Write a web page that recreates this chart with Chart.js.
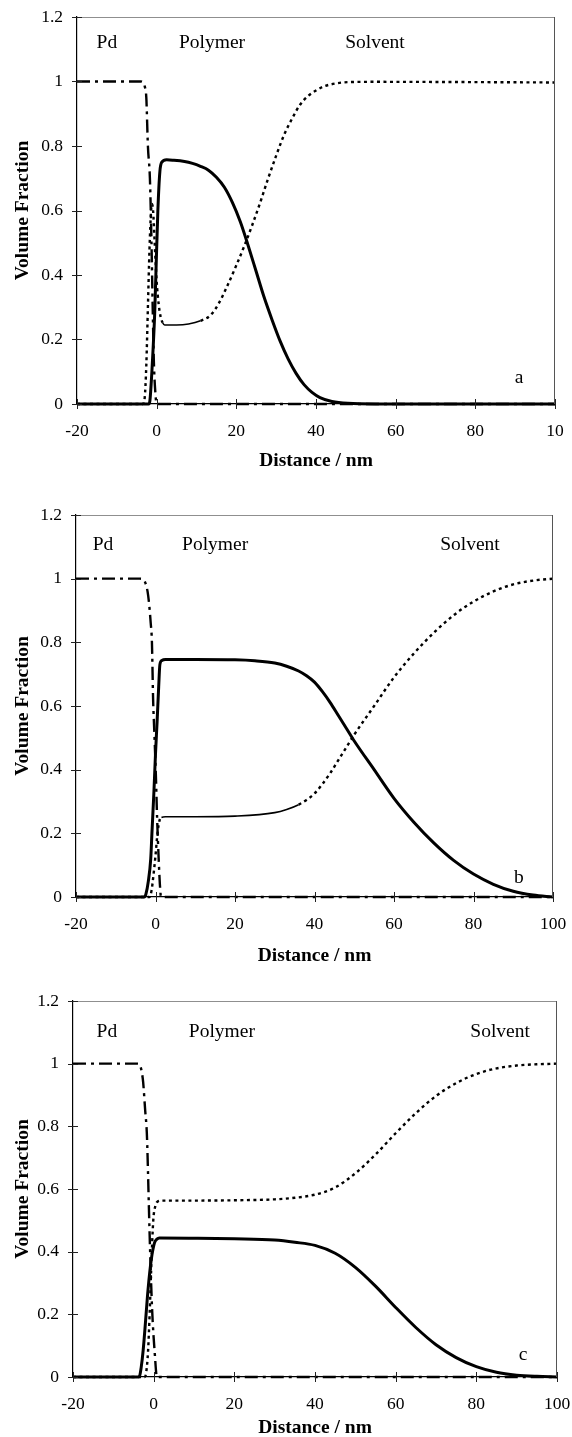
<!DOCTYPE html>
<html>
<head>
<meta charset="utf-8">
<script src="https://cdn.jsdelivr.net/npm/chart.js@4.4.0/dist/chart.umd.min.js"></script>
<style>
html,body{margin:0;padding:0;background:#fff;}
body{width:572px;height:1437px;position:relative;overflow:hidden;}
canvas{position:absolute;left:0;display:block;}
</style>
</head>
<body>
<canvas id="ca" width="572" height="485" style="top:0px"></canvas>
<canvas id="cb" width="572" height="485" style="top:485px"></canvas>
<canvas id="cc" width="572" height="467" style="top:970px"></canvas>
<script>
// ---------- tick labels ----------
const xTickValues = [-20, 0, 20, 40, 60, 80, 100];
const xTickLabelsA = ['-20', '0', '20', '40', '60', '80', '10'];
const xTickLabelsBC = ['-20', '0', '20', '40', '60', '80', '100'];
const yTickValues = [0, 0.2, 0.4, 0.6, 0.8, 1, 1.2];
const yTickLabels = ['0', '0.2', '0.4', '0.6', '0.8', '1', '1.2'];

// ---------- panel a ----------
const pdA_x = [-20,-4,-3.4,-3,-2.6,-2.2,-1.7,-1.3,-1.0,-0.7,-0.3,0,100];
const pdA_y = [1,1,0.997,0.985,0.95,0.8,0.7,0.5,0.3,0.13,0.03,0,0];
const polyA_x = [-20,-2,-1.7,-1.2,-0.9,-0.5,-0.2,0.3,0.8,1.3,2.5,4,7,9,11,13,15,17,19,21,23,25,27,29,31,33,35,37,39,41,44,48,55,100];
const polyA_y = [0,0,0.01,0.1,0.17,0.28,0.4,0.6,0.72,0.75,0.757,0.756,0.752,0.746,0.737,0.725,0.703,0.672,0.625,0.565,0.49,0.41,0.33,0.26,0.195,0.14,0.095,0.06,0.036,0.02,0.008,0.002,0,0];
const solvA_x = [-20,-3.5,-3,-2.6,-2.2,-1.8,-1.4,-1.2,-0.9,-0.5,0,0.5,1,1.5,2,5,8,11,13.5,15.5,17.5,20,22,24,26,28,30,32,34,36,38,40,42,45,48,55,100];
const solvA_y = [0,0,0.02,0.12,0.3,0.48,0.6,0.62,0.6,0.5,0.38,0.31,0.27,0.252,0.245,0.245,0.248,0.258,0.275,0.31,0.36,0.43,0.49,0.555,0.625,0.7,0.77,0.835,0.885,0.928,0.955,0.972,0.985,0.994,0.998,0.999,0.997];

// ---------- panel b ----------
const pdB_x = [-20,-4,-3,-2.5,-2,-1.6,-1.2,-0.9,-0.6,-0.3,0.1,0.4,0.8,1.1,1.4,100];
const pdB_y = [1,1,0.997,0.985,0.96,0.92,0.86,0.8,0.62,0.52,0.38,0.25,0.12,0.04,0,0];
const polyB_x = [-20,-2.8,-2.4,-1.8,-1.2,-0.9,-0.4,0,0.4,0.8,1.1,1.6,2.5,10,20,25,30,33,36,38,40,42,44,46,48,50,55,60,65,70,75,80,85,90,95,100];
const polyB_y = [0,0,0.01,0.05,0.12,0.2,0.33,0.45,0.55,0.66,0.73,0.743,0.746,0.746,0.745,0.742,0.735,0.725,0.71,0.695,0.675,0.645,0.61,0.57,0.53,0.49,0.4,0.31,0.235,0.17,0.115,0.072,0.04,0.018,0.006,0];
const solvB_x = [-20,-1.5,-1,-0.5,0,0.5,1,1.5,2.5,10,20,30,33,36,38,40,42,44,46,48,50,55,60,65,70,75,80,85,90,95,100];
const solvB_y = [0,0,0.02,0.07,0.13,0.2,0.24,0.25,0.252,0.252,0.254,0.265,0.275,0.29,0.305,0.325,0.355,0.39,0.43,0.47,0.51,0.6,0.69,0.765,0.83,0.885,0.928,0.96,0.982,0.994,1];

// ---------- panel c ----------
const pdC_x = [-20,-4,-3.4,-2.9,-2.6,-2.1,-1.7,-1.5,-1.2,-0.9,-0.4,0.3,0.8,100];
const pdC_y = [1,1,0.995,0.97,0.94,0.85,0.78,0.7,0.55,0.41,0.22,0.07,0,0];
const polyC_x = [-20,-4,-3.5,-3.1,-2.6,-2,-1.4,-0.6,0.2,0.8,1.4,10,20,30,35,40,45,50,55,60,65,70,75,80,85,90,95,100];
const polyC_y = [0,0,0.003,0.03,0.086,0.18,0.278,0.374,0.428,0.44,0.444,0.443,0.441,0.437,0.43,0.42,0.395,0.35,0.29,0.222,0.158,0.103,0.062,0.033,0.015,0.006,0.002,0];
const solvC_x = [-20,-2.2,-1.8,-1.4,-1,-0.6,-0.1,0.4,1,2,10,20,30,35,40,45,50,55,60,65,70,75,80,85,90,95,100];
const solvC_y = [0,0,0.02,0.08,0.2,0.35,0.5,0.545,0.56,0.563,0.563,0.564,0.567,0.572,0.582,0.605,0.65,0.71,0.778,0.842,0.897,0.938,0.967,0.985,0.994,0.998,1];

// ---------- helpers ----------
const SERIF = '"Liberation Serif", "Times New Roman", serif';
function pts(xs, ys) { return xs.map((x, i) => ({ x: x, y: ys[i] })); }

const framePlugin = {
  id: 'frame',
  afterDraw(chart, args, opts) {
    const { ctx, chartArea: a, scales: { x, y } } = chart;
    ctx.save();
    ctx.lineWidth = 1;
    ctx.strokeStyle = '#8f8f8f';
    ctx.beginPath(); ctx.moveTo(a.left, a.top + 0.5); ctx.lineTo(a.right, a.top + 0.5); ctx.stroke();
    ctx.strokeStyle = '#555';
    ctx.beginPath(); ctx.moveTo(a.right - 0.5, a.top); ctx.lineTo(a.right - 0.5, a.bottom); ctx.stroke();
    ctx.strokeStyle = '#222';
    x.ticks.forEach(t => {
      const px = Math.round(x.getPixelForValue(t.value)) + 0.5;
      ctx.beginPath(); ctx.moveTo(px, a.bottom - 5); ctx.lineTo(px, a.bottom + 5); ctx.stroke();
    });
    y.ticks.forEach(t => {
      const py = Math.round(y.getPixelForValue(t.value)) + 0.5;
      ctx.beginPath(); ctx.moveTo(a.left - 5, py); ctx.lineTo(a.left + 5, py); ctx.stroke();
    });
    ctx.fillStyle = '#000';
    ctx.font = '19.5px ' + SERIF;
    ctx.textAlign = 'center';
    ctx.textBaseline = 'middle';
    (opts.items || []).forEach(it => {
      ctx.fillText(it.text, x.getPixelForValue(it.x), y.getPixelForValue(it.y));
    });
    ctx.restore();
  }
};

function buildChart(id, geo, pd, poly, solv, xLabels, solidRange, items) {
  const inSolid = c => solidRange && c.p0.parsed.x >= solidRange[0] && c.p1.parsed.x <= solidRange[1];
  new Chart(document.getElementById(id), {
    type: 'line',
    data: {
      datasets: [
        { label: 'Pd', data: pd, borderColor: '#000', borderWidth: 2.4, borderDash: [13, 5, 3, 5],
          pointRadius: 0, cubicInterpolationMode: 'monotone', clip: 6, fill: false },
        { label: 'Polymer', data: poly, borderColor: '#000', borderWidth: 3,
          pointRadius: 0, cubicInterpolationMode: 'monotone', clip: 6, fill: false },
        { label: 'Solvent', data: solv, borderColor: '#000', borderWidth: 2.4, borderDash: [3, 3.5],
          pointRadius: 0, cubicInterpolationMode: 'monotone', clip: 6, fill: false,
          segment: {
            borderDash: c => inSolid(c) ? [] : [3, 3.5],
            borderWidth: c => inSolid(c) ? 1.6 : 2.4
          } }
      ]
    },
    options: {
      responsive: false,
      animation: false,
      events: [],
      layout: { padding: { top: geo.top, right: 572 - geo.right, bottom: 0, left: 0 } },
      plugins: { legend: { display: false }, tooltip: { enabled: false }, frame: { items: items } },
      scales: {
        x: {
          type: 'linear', min: -20, max: 100,
          afterBuildTicks: s => { s.ticks = xTickValues.map(v => ({ value: v })); },
          ticks: { callback: (v, i) => xLabels[i], padding: 0, color: '#000', maxRotation: 0, autoSkip: false,
                   font: { family: SERIF, size: 17.5 } },
          grid: { drawOnChartArea: false, drawTicks: true, tickLength: 17, tickColor: 'rgba(0,0,0,0)', color: 'rgba(0,0,0,0)' },
          border: { color: '#000', width: 1.2 },
          title: { display: true, text: 'Distance / nm', color: '#000',
                   font: { family: SERIF, size: 19.5, weight: 'bold', lineHeight: 1.2 },
                   padding: { top: 0, bottom: geo.H - geo.xTitle - 11.7 } },
          afterFit: s => { s.height = geo.H - geo.bottom; }
        },
        y: {
          type: 'linear', min: 0, max: 1.2,
          afterBuildTicks: s => { s.ticks = yTickValues.map(v => ({ value: v })); },
          ticks: { callback: (v, i) => yTickLabels[i], padding: 0, color: '#000',
                   font: { family: SERIF, size: 17.5 } },
          grid: { drawOnChartArea: false, drawTicks: true, tickLength: 14, tickColor: 'rgba(0,0,0,0)', color: 'rgba(0,0,0,0)' },
          border: { color: '#000', width: 1.2 },
          title: { display: true, text: 'Volume Fraction', color: '#000',
                   font: { family: SERIF, size: 19.5, weight: 'bold', lineHeight: 1.2 },
                   padding: { top: 11, bottom: 0 } },
          afterFit: s => { s.width = geo.left; }
        }
      }
    },
    plugins: [framePlugin]
  });
}

// geometry (canvas-relative pixels)
buildChart('ca', { H: 485, top: 17, bottom: 404, left: 77, right: 555, xTitle: 461 },
  pts(pdA_x, pdA_y), pts(polyA_x, polyA_y), pts(solvA_x, solvA_y), xTickLabelsA, [1.5, 13],
  [{ text: 'Pd', x: -12.5, y: 1.12 }, { text: 'Polymer', x: 13.9, y: 1.12 },
   { text: 'Solvent', x: 54.8, y: 1.12 }, { text: 'a', x: 91, y: 0.08 }]);

buildChart('cb', { H: 485, top: 30, bottom: 412, left: 76, right: 553, xTitle: 471 },
  pts(pdB_x, pdB_y), pts(polyB_x, polyB_y), pts(solvB_x, solvB_y), xTickLabelsBC, [1.5, 36],
  [{ text: 'Pd', x: -13.2, y: 1.107 }, { text: 'Polymer', x: 15, y: 1.107 },
   { text: 'Solvent', x: 79.1, y: 1.107 }, { text: 'b', x: 91.4, y: 0.06 }]);

buildChart('cc', { H: 467, top: 31, bottom: 407, left: 73, right: 557, xTitle: 458 },
  pts(pdC_x, pdC_y), pts(polyC_x, polyC_y), pts(solvC_x, solvC_y), xTickLabelsBC, null,
  [{ text: 'Pd', x: -11.6, y: 1.10 }, { text: 'Polymer', x: 16.9, y: 1.10 },
   { text: 'Solvent', x: 85.9, y: 1.10 }, { text: 'c', x: 91.6, y: 0.07 }]);
</script>
</body>
</html>
